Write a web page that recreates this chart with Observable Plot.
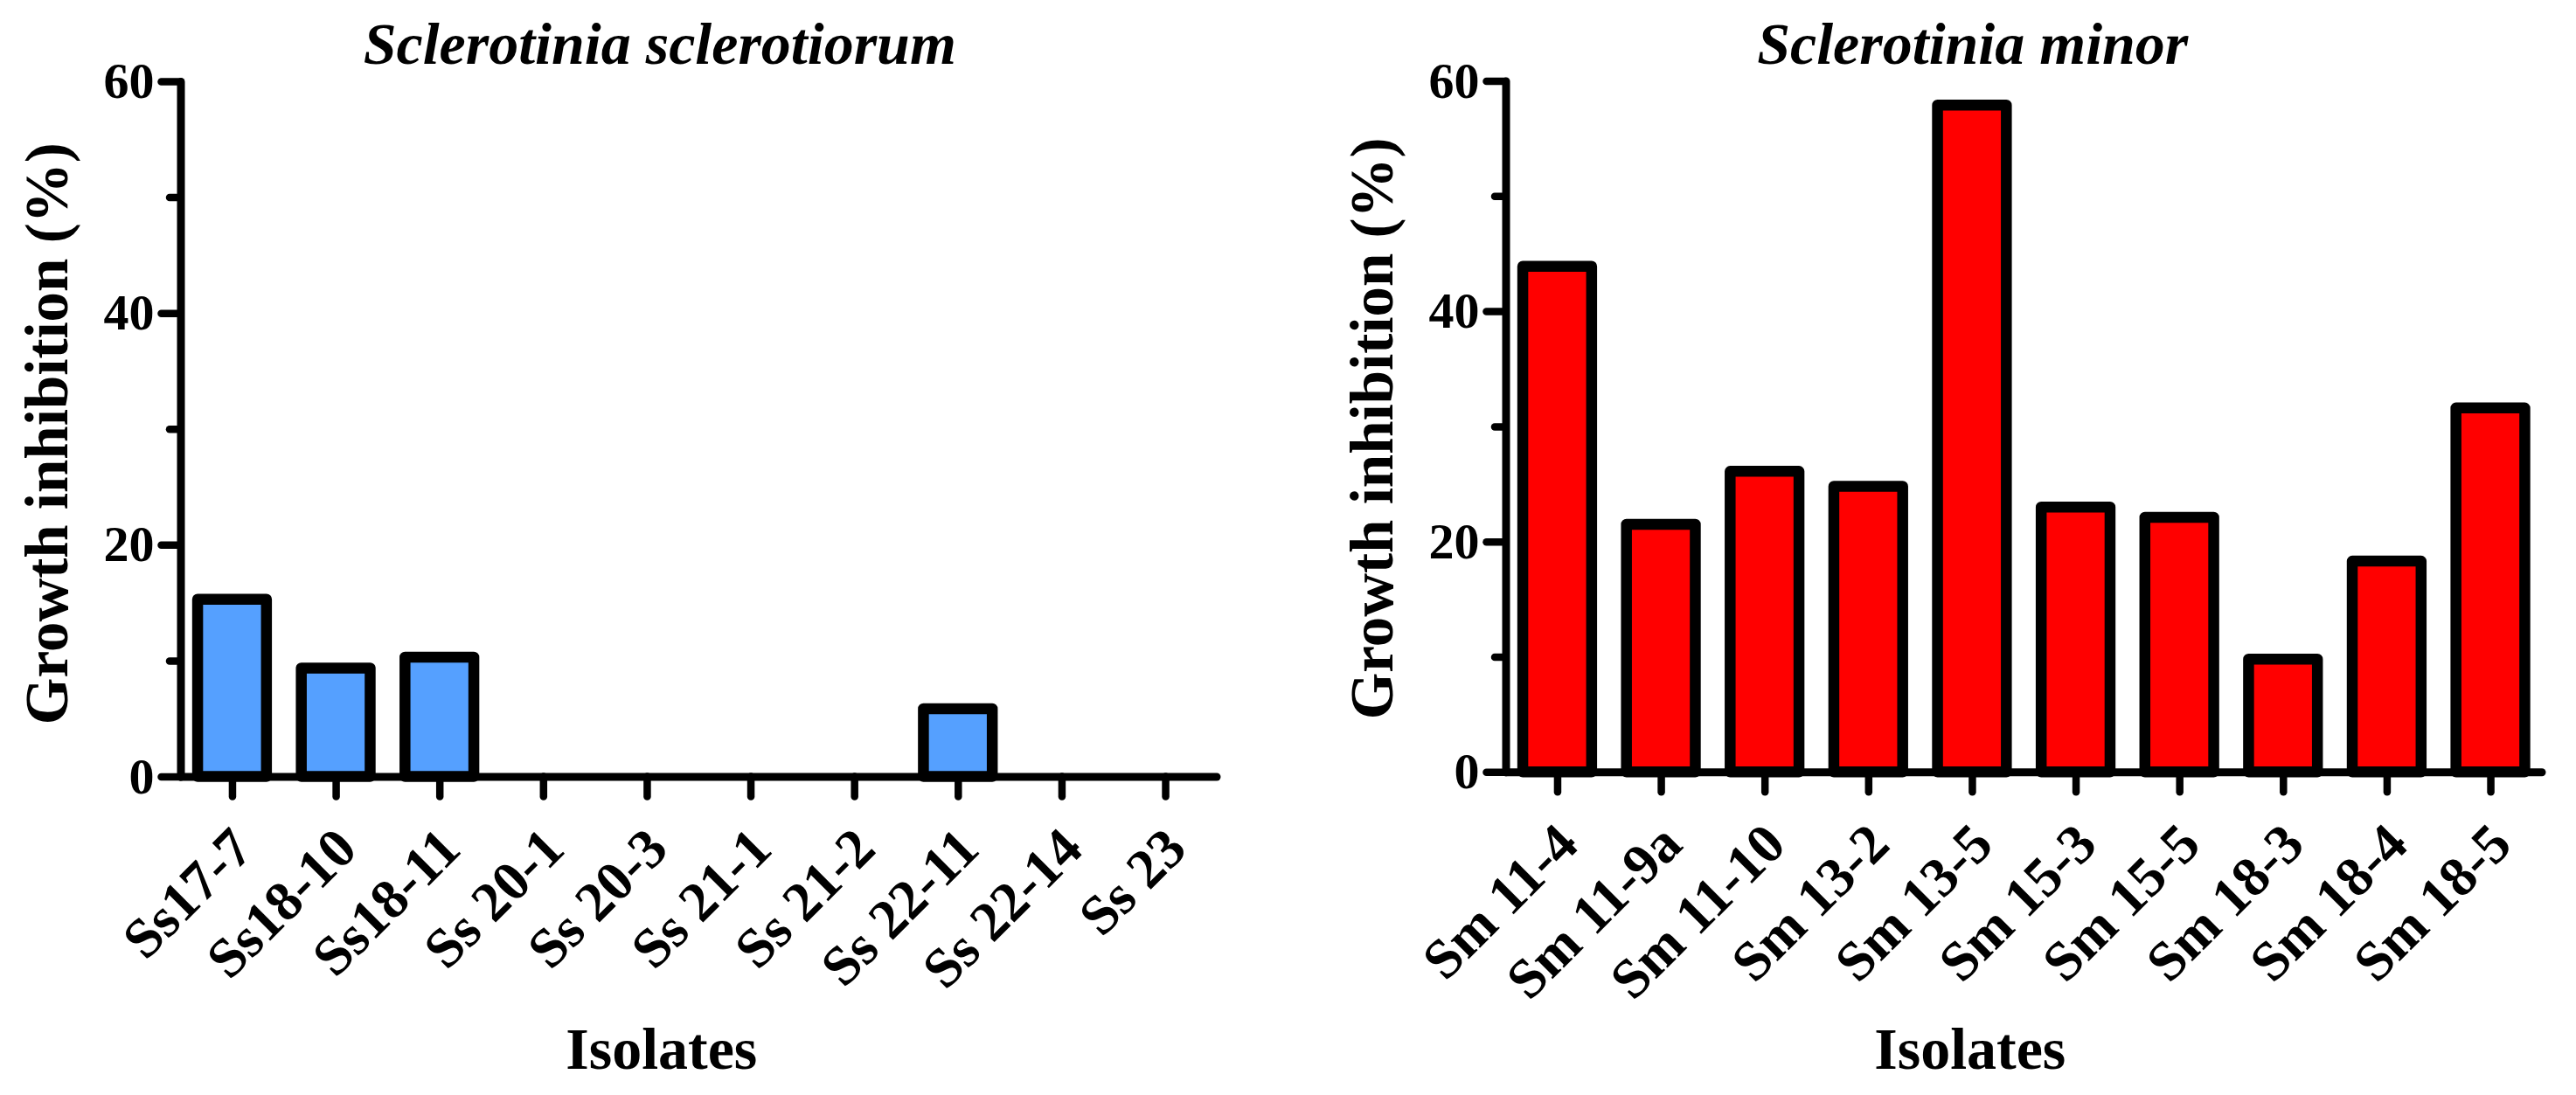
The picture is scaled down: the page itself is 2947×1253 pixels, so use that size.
<!DOCTYPE html>
<html>
<head>
<meta charset="utf-8">
<script src="https://cdn.jsdelivr.net/npm/d3@7"></script>
<script src="https://cdn.jsdelivr.net/npm/@observablehq/plot@0.6"></script>
<style>
  html, body { margin: 0; padding: 0; background: #fff; }
  #charts { display: flex; flex-direction: row; width: 2947px; height: 1253px; }
  #charts svg { display: block; }
</style>
</head>
<body>
<div id="charts"></div>
<script>
// ---- Data ----
const ssTitle = "Sclerotinia sclerotiorum";
const ssIsolates = ["Ss17-7", "Ss18-10", "Ss18-11", "Ss 20-1", "Ss 20-3", "Ss 21-1", "Ss 21-2", "Ss 22-11", "Ss 22-14", "Ss 23"];
const ssInhibition = [15.3, 9.35, 10.3, 0, 0, 0, 0, 5.85, 0, 0];

const smTitle = "Sclerotinia minor";
const smIsolates = ["Sm 11-4", "Sm 11-9a", "Sm 11-10", "Sm 13-2", "Sm 13-5", "Sm 15-3", "Sm 15-5", "Sm 18-3", "Sm 18-4", "Sm 18-5"];
const smInhibition = [43.9, 21.5, 26.1, 24.8, 57.9, 23.0, 22.1, 9.8, 18.3, 31.6];

const yMajorTicks = [0, 20, 40, 60];
const yMinorTicks = [10, 30, 50];
const yLabel = "Growth inhibition (%)";
const xLabel = "Isolates";

function panel({title, isolates, values, fill, width, marginRight, marginTop, marginBottom, titleDx, xLabelDx, xLabelDy, yLabelDy}) {
  const data = isolates.map((name, i) => ({name, value: values[i]}));
  return Plot.plot({
    width,
    height: 1253,
    marginLeft: 206.5,
    marginRight,
    marginTop,
    marginBottom,
    style: {fontFamily: "'Liberation Serif', 'Times New Roman', serif", fontWeight: "bold", background: "#fff", color: "#000", overflow: "visible"},
    x: {type: "band", domain: isolates, paddingInner: 0.336, paddingOuter: 0.165, round: false},
    y: {domain: [0, 60], round: false},
    marks: [
      Plot.barY(data, {x: "name", y: "value", fill, stroke: "#000", strokeWidth: 12.5, strokeLinejoin: "round"}),
      Plot.ruleY([0], {stroke: "#000", strokeWidth: 9, strokeLinecap: "round"}),
      Plot.frame({anchor: "left", stroke: "#000", strokeWidth: 9, strokeLinecap: "round"}),
      Plot.axisY({ticks: yMajorTicks, tickSize: 22, tickPadding: 8.5, strokeWidth: 8.5, strokeLinecap: "round", fontSize: 58, fontWeight: "bold", label: null, tickFormat: d => String(d)}),
      Plot.axisY({ticks: yMinorTicks, tickSize: 12.5, strokeWidth: 8.5, strokeLinecap: "round", label: null, tickFormat: () => ""}),
      Plot.axisX({tickSize: 23, strokeWidth: 8.5, strokeLinecap: "round", label: null, tickFormat: () => ""}),
      Plot.axisX({tickSize: 0, tickPadding: 71, tickRotate: -45, textAnchor: "end", lineAnchor: "middle", dx: 12, fontSize: 64, fontWeight: "bold", label: null}),
      Plot.text([title], {frameAnchor: "top", text: d => d, fontSize: 68, fontStyle: "italic", fontWeight: "bold", dx: titleDx, dy: -42, lineAnchor: "middle"}),
      Plot.text([xLabel], {frameAnchor: "bottom", text: d => d, fontSize: 68, fontWeight: "bold", dx: xLabelDx, dy: xLabelDy, lineAnchor: "middle"}),
      Plot.text([yLabel], {frameAnchor: "left", text: d => d, fontSize: 69, fontWeight: "bold", rotate: -90, textAnchor: "middle", dx: -152.5, dy: yLabelDy, lineAnchor: "middle"})
    ]
  });
}

const container = document.getElementById("charts");
container.append(panel({
  title: ssTitle, isolates: ssIsolates, values: ssInhibition, fill: "#55a0ff",
  width: 1516, marginRight: 124, marginTop: 93, marginBottom: 364.5,
  titleDx: -45, xLabelDx: -43, xLabelDy: 312, yLabelDy: 5
}));
container.append(panel({
  title: smTitle, isolates: smIsolates, values: smInhibition, fill: "#ff0000",
  width: 1431, marginRight: 39, marginTop: 92.5, marginBottom: 369.7,
  titleDx: -59, xLabelDx: -62, xLabelDy: 317, yLabelDy: 2
}));
</script>
</body>
</html>
